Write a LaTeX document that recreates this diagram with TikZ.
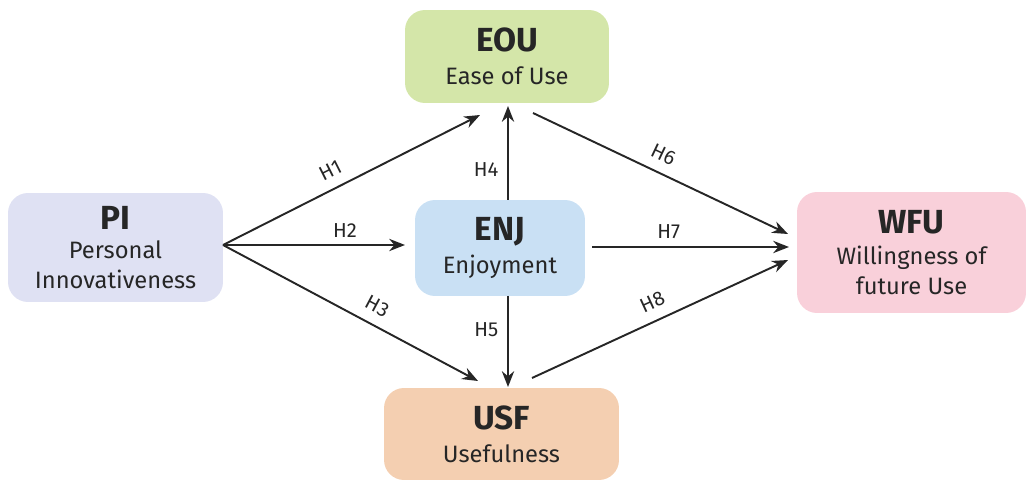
\documentclass[tikz,border=0pt]{standalone}
\usepackage{fontspec}
\setmainfont{Fira Sans}
\usetikzlibrary{arrows.meta}
\definecolor{eoucol}{HTML}{D4E6A9}
\definecolor{picol}{HTML}{DFE1F3}
\definecolor{enjcol}{HTML}{C9E0F4}
\definecolor{wfucol}{HTML}{F9D0DA}
\definecolor{usfcol}{HTML}{F4CFB1}
\definecolor{ink}{HTML}{262626}
\tikzset{
  box/.style={rounded corners=0.4cm, inner sep=0pt, align=center, text=ink, font=\fontsize{13.5}{17}\selectfont},
  arr/.style={-{Stealth[length=9pt,width=7pt]}, line width=1.1pt, draw=ink},
  hlab/.style={text=ink, font=\fontsize{11.5}{13}\selectfont, inner sep=1pt}
}
\newcommand{\ttl}[1]{{\fontsize{19}{21}\selectfont\bfseries #1}}
\begin{document}
\begin{tikzpicture}[x=0.02cm, y=-0.02cm]
	\useasboundingbox (0,0) rectangle (1026,482);
	% boxes
	\node[box, fill=eoucol, minimum width=4.08cm, minimum height=1.86cm] (eou) at (507,56.5) {\ttl{EOU}\\[2pt]Ease of Use};
	\node[box, fill=picol, minimum width=4.3cm, minimum height=2.18cm] (pi) at (115.5,247.5) {\ttl{PI}\\Personal\\Innovativeness};
	\node[box, fill=enjcol, minimum width=3.4cm, minimum height=1.92cm] (enj) at (500,248) {\ttl{ENJ}\\[2pt]Enjoyment};
	\node[box, fill=wfucol, minimum width=4.58cm, minimum height=2.42cm] (wfu) at (911.5,252.5) {\ttl{WFU}\\[1pt]Willingness of\\future Use};
	\node[box, fill=usfcol, minimum width=4.7cm, minimum height=1.84cm] (usf) at (501.5,434) {\ttl{USF}\\[2pt]Usefulness};
	% arrow ends
	\coordinate (s1) at (223,245);
	\coordinate (t1) at (480,115);
	\coordinate (t2) at (405,245);
	\coordinate (t3) at (478,381);
	\coordinate (t4) at (508,106);
	\coordinate (s4) at (508,200);
	\coordinate (s5) at (508,296);
	\coordinate (t5) at (508,387);
	\coordinate (s6) at (533,113);
	\coordinate (t6) at (788,234);
	\coordinate (s7) at (592,247);
	\coordinate (t7) at (789,247);
	\coordinate (s8) at (532,378);
	\coordinate (t8) at (788,260);
	% arrows
	\draw[arr] (s1) -- (t1) node[hlab, pos=0.45, above=5pt, sloped] {H1};
	\draw[arr] (s1) -- (t2) node[hlab, pos=0.67, above=3pt] {H2};
	\draw[arr] (s1) -- (t3) node[hlab, pos=0.57, above=5pt, sloped] {H3};
	\draw[arr] (s4) -- (t4) node[hlab, pos=0.32, left=4pt] {H4};
	\draw[arr] (s5) -- (t5) node[hlab, pos=0.37, left=4pt] {H5};
	\draw[arr] (s6) -- (t6) node[hlab, pos=0.48, above=5pt, sloped] {H6};
	\draw[arr] (s7) -- (t7) node[hlab, pos=0.39, above=3pt] {H7};
	\draw[arr] (s8) -- (t8) node[hlab, pos=0.5, above=5pt, sloped] {H8};
\end{tikzpicture}
\end{document}
